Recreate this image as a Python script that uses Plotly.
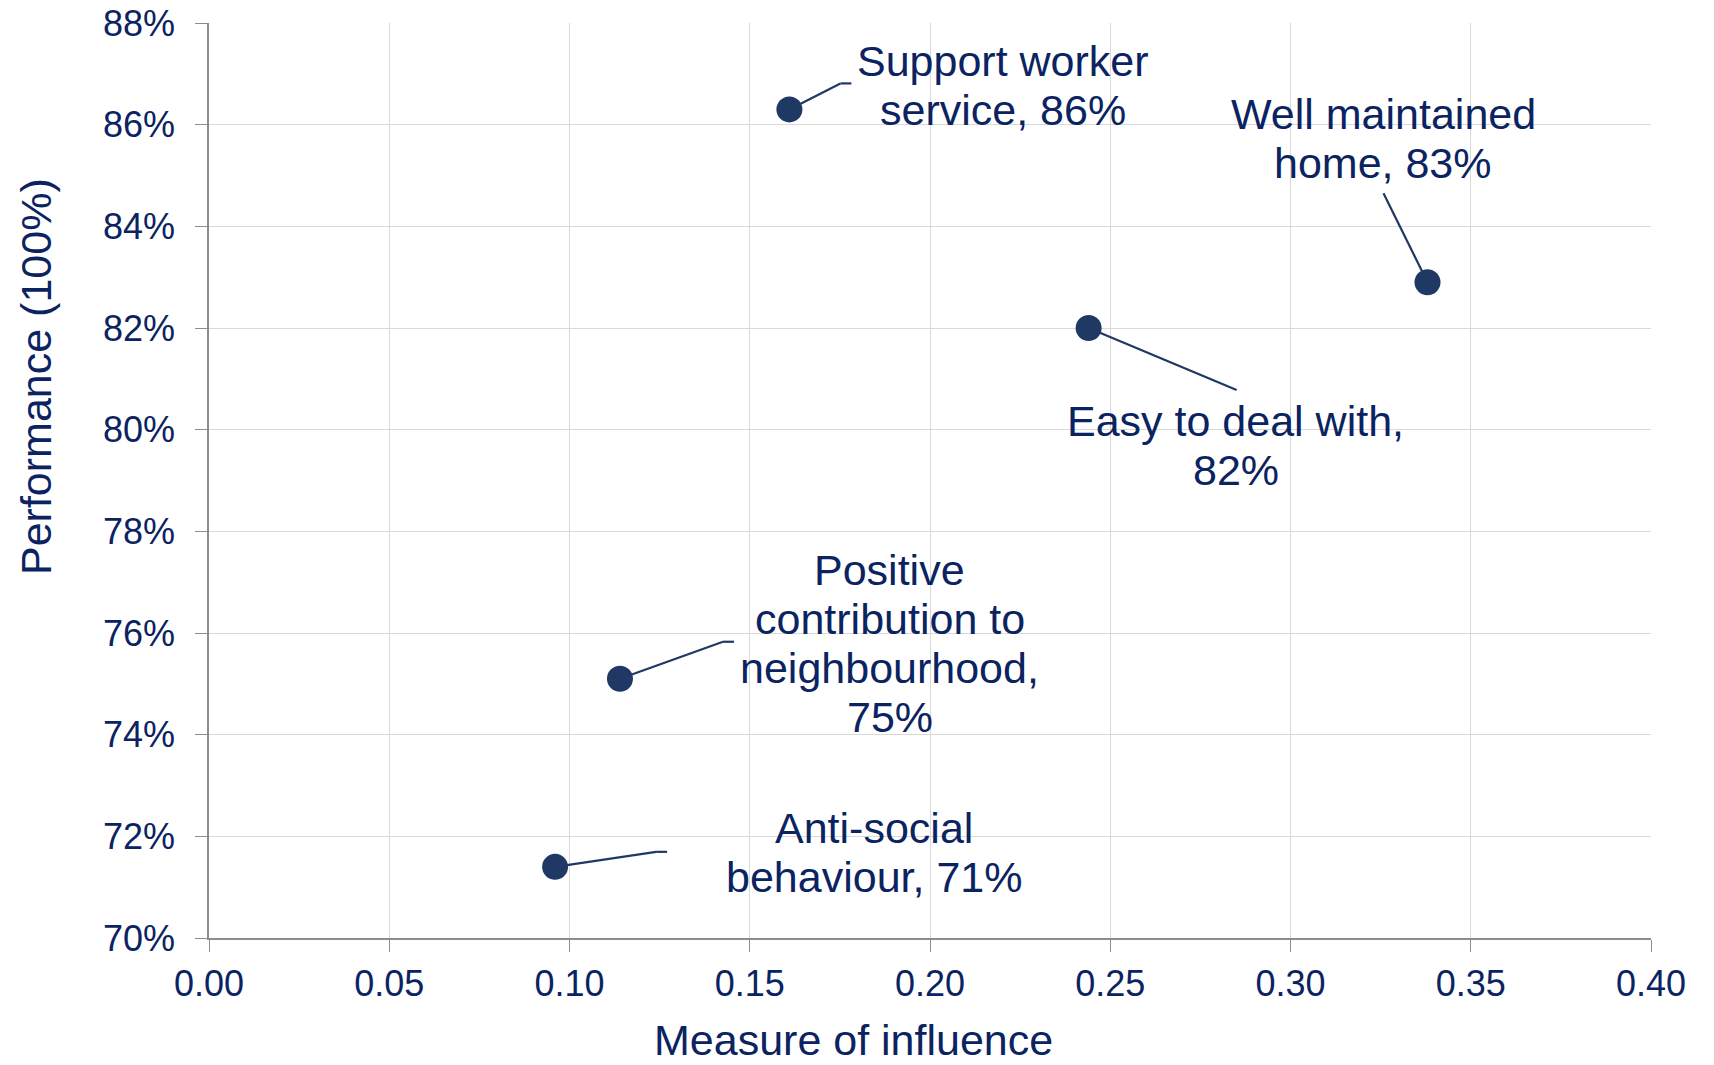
import plotly.graph_objects as go

# ---- data ----
labels = [
    "Support worker<br>service, 86%",
    "Well maintained<br>home, 83%",
    "Easy to deal with,<br>82%",
    "Positive<br>contribution to<br>neighbourhood,<br>75%",
    "Anti-social<br>behaviour, 71%",
]
influence = [0.161, 0.338, 0.244, 0.114, 0.096]
performance = [0.863, 0.829, 0.820, 0.751, 0.714]

x_ticks = [0.00, 0.05, 0.10, 0.15, 0.20, 0.25, 0.30, 0.35, 0.40]
y_ticks = [0.70, 0.72, 0.74, 0.76, 0.78, 0.80, 0.82, 0.84, 0.86, 0.88]
x_title = "Measure of influence"
y_title = "Performance (100%)"

# ---- layout (pixel offsets from each point; y down) ----
label_offsets = [(214, -24), (-44, -144), (147, 117), (270, -35), (319, -14)]
leader_offsets = [
    [(51, -26), (62, -26)],
    [(-44, -89)],
    [(148, 62)],
    [(103, -37), (114, -37)],
    [(101, -15), (112, -15)],
]
LINE_GAP = 49

TEXT = "#0B2461"
MARK = "#203864"
FONT = "Liberation Sans, Arial, sans-serif"
ML, MR, MT, MB = 209, 63, 23, 127
W, H = 1714, 1065
PW, PH = W - ML - MR, H - MT - MB

fig = go.Figure()
fig.add_trace(go.Scatter(
    x=influence, y=performance, mode="markers",
    marker=dict(size=26, color=MARK),
    hoverinfo="skip", showlegend=False,
))

shapes = []
annotations = []
for xi, yi, lab, lo, segs in zip(influence, performance, labels, label_offsets, leader_offsets):
    lines = lab.split("<br>")
    n = len(lines)
    for k, ln in enumerate(lines):
        dy = lo[1] + (k - (n - 1) / 2) * LINE_GAP
        annotations.append(dict(
            x=xi, y=yi, xref="x", yref="y", text=ln, showarrow=False,
            xshift=lo[0], yshift=-dy, xanchor="center", yanchor="middle",
            align="center", font=dict(size=43, color=TEXT, family=FONT),
        ))
    prev = (0, 0)
    for s in segs:
        shapes.append(dict(
            type="line", xref="x", yref="y", xsizemode="pixel", ysizemode="pixel",
            xanchor=xi, yanchor=yi, x0=prev[0], y0=-prev[1], x1=s[0], y1=-s[1],
            line=dict(color=MARK, width=2.2), layer="between",
        ))
        prev = s

# axis titles (placed as in the reference, off-centre)
annotations.append(dict(
    text=x_title, xref="paper", yref="paper", x=(853 - ML) / PW, y=0,
    yshift=-(1040 - (H - MB)), xanchor="center", yanchor="middle", showarrow=False,
    font=dict(size=43, color=TEXT, family=FONT),
))
annotations.append(dict(
    text=y_title, xref="paper", yref="paper", x=0, y=((H - MB) - 377) / PH,
    xshift=36 - ML, xanchor="center", yanchor="middle", showarrow=False, textangle=-90,
    font=dict(size=43, color=TEXT, family=FONT),
))

fig.update_layout(
    width=W, height=H,
    margin=dict(l=ML, r=MR, t=MT, b=MB, autoexpand=False),
    paper_bgcolor="white", plot_bgcolor="white",
    font=dict(family=FONT, color=TEXT),
    shapes=shapes, annotations=annotations,
)
common = dict(
    showgrid=True, gridcolor="#D9D9D9", gridwidth=1,
    showline=True, linecolor="#8C8C8C", linewidth=1.5,
    ticks="outside", ticklen=12, tickcolor="#8C8C8C",
    tickfont=dict(size=36, color=TEXT, family=FONT),
    zeroline=False, automargin=False,
)
fig.update_xaxes(range=[0, 0.4], tickvals=x_ticks, tickformat=".2f",
                 ticklabelstandoff=1, **common)
fig.update_yaxes(range=[0.70, 0.88], tickvals=y_ticks, tickformat=".0%",
                 ticklabelstandoff=13, **common)

fig.write_html("out.html")
